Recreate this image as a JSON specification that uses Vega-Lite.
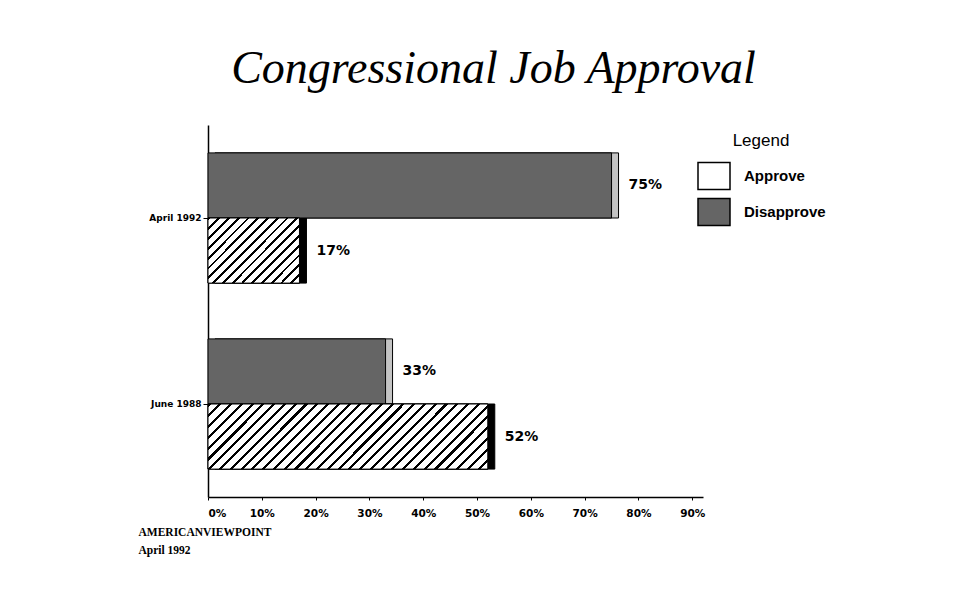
{
  "$schema": "https://vega.github.io/schema/vega-lite/v6.json",
  "autosize": "none",
  "padding": {"left": 208, "top": 125, "right": 265, "bottom": 94},
  "width": 495,
  "height": 372,
  "background": "white",
  "title": {
    "text": "Congressional Job Approval",
    "font": "Liberation Serif",
    "fontStyle": "italic",
    "fontWeight": "normal",
    "fontSize": 46,
    "color": "black",
    "anchor": "middle",
    "dx": 38,
    "offset": 32
  },
  "data": {
    "values": [
      {"period": "April 1992", "answer": "Disapprove", "pct": 0.75},
      {"period": "April 1992", "answer": "Approve", "pct": 0.17},
      {"period": "June 1988", "answer": "Disapprove", "pct": 0.33},
      {"period": "June 1988", "answer": "Approve", "pct": 0.52}
    ]
  },
  "encoding": {
    "y": {
      "field": "period",
      "type": "nominal",
      "sort": ["April 1992", "June 1988"],
      "scale": {"paddingInner": 0.3, "paddingOuter": 0.15},
      "axis": {
        "title": null,
        "labelFont": "DejaVu Sans",
        "labelFontWeight": "bold",
        "labelFontSize": 9,
        "labelColor": "black",
        "tickColor": "black",
        "tickSize": 5,
        "labelPadding": 2,
        "domainColor": "black",
        "domainWidth": 1.5
      }
    },
    "yOffset": {"field": "answer", "type": "nominal", "sort": ["Disapprove", "Approve"]},
    "x": {
      "field": "pct",
      "type": "quantitative",
      "scale": {"domain": [0, 0.92], "nice": false},
      "axis": {
        "format": ".0%",
        "values": [0, 0.1, 0.2, 0.3, 0.4, 0.5, 0.6, 0.7, 0.8, 0.9],
        "grid": false,
        "labelFont": "DejaVu Sans",
        "labelFontWeight": "bold",
        "labelFontSize": 10.5,
        "labelColor": "black",
        "tickColor": "black",
        "tickSize": 3,
        "labelPadding": 8,
        "domainColor": "black",
        "domainWidth": 1.5,
        "title": ["AMERICANVIEWPOINT", "April 1992"],
        "titleFont": "Liberation Serif",
        "titleFontWeight": "bold",
        "titleFontSize": 11.5,
        "titleColor": "black",
        "titleAnchor": "start",
        "titleAlign": "left",
        "titleBaseline": "top",
        "titleX": -70,
        "titleY": 29,
        "titleLineHeight": 18
      }
    }
  },
  "layer": [
    {
      "mark": {"type": "bar", "xOffset": 7, "x2Offset": 7, "yOffset": -7, "y2Offset": -7, "stroke": "black", "strokeWidth": 1},
      "encoding": {
        "x2": {"datum": 0},
        "color": {
          "condition": {"test": "datum.answer === 'Approve'", "value": "black"},
          "value": "#c4c4c4"
        }
      }
    },
    {
      "mark": {"type": "bar", "stroke": "black", "strokeWidth": 1},
      "encoding": {
        "color": {
          "field": "answer",
          "type": "nominal",
          "scale": {"domain": ["Approve", "Disapprove"], "range": ["#ffffff", "#656565"]},
          "legend": {
            "title": "Legend",
            "orient": "none",
            "legendX": 489,
            "legendY": 8,
            "titleFont": "Liberation Sans",
            "titleFontWeight": "normal",
            "titleFontSize": 17,
            "titleColor": "black",
            "titleAnchor": "middle",
            "titlePadding": 9,
            "labelFont": "Liberation Sans",
            "labelFontWeight": "bold",
            "labelFontSize": 15,
            "labelColor": "black",
            "labelOffset": 13,
            "symbolType": "M-1,-0.84H1V0.84H-1Z",
            "symbolSize": 1024,
            "symbolStrokeColor": "black",
            "symbolStrokeWidth": 1.5,
            "symbolOpacity": 1,
            "rowPadding": 2,
            "encode": {
              "symbols": {
                "update": {
                  "stroke": {"value": "black"},
                  "strokeWidth": {"value": 1.5},
                  "fill": {"signal": "datum.value === 'Approve' ? {gradient: 'linear', x1: 0, y1: 0, x2: 1.077, y2: 0.909, stops: [{offset: 0, color: '#000'}, {offset: 0.05, color: '#000'}, {offset: 0.05, color: '#fff'}, {offset: 0.1667, color: '#fff'}, {offset: 0.1667, color: '#000'}, {offset: 0.2167, color: '#000'}, {offset: 0.2167, color: '#fff'}, {offset: 0.3333, color: '#fff'}, {offset: 0.3333, color: '#000'}, {offset: 0.3833, color: '#000'}, {offset: 0.3833, color: '#fff'}, {offset: 0.5, color: '#fff'}, {offset: 0.5, color: '#000'}, {offset: 0.55, color: '#000'}, {offset: 0.55, color: '#fff'}, {offset: 0.6667, color: '#fff'}, {offset: 0.6667, color: '#000'}, {offset: 0.7167, color: '#000'}, {offset: 0.7167, color: '#fff'}, {offset: 0.8333, color: '#fff'}, {offset: 0.8333, color: '#000'}, {offset: 0.8833, color: '#000'}, {offset: 0.8833, color: '#fff'}, {offset: 1, color: '#fff'}]} : '#656565'"}
                }
              }
            }
          }
        }
      }
    },
    {
      "transform": [{"filter": "datum.answer === 'Approve' && datum.period === 'April 1992'"}],
      "mark": {
        "type": "bar",
        "stroke": "black",
        "strokeWidth": 1,
        "fill": {
          "gradient": "linear",
          "x1": 0, "y1": 0, "x2": 1.138, "y2": 0.804,
          "stops": [
            {"offset": 0, "color": "#000"}, {"offset": 0.018, "color": "#000"}, {"offset": 0.018, "color": "#fff"}, {"offset": 0.0625, "color": "#fff"},
            {"offset": 0.0625, "color": "#000"}, {"offset": 0.0805, "color": "#000"}, {"offset": 0.0805, "color": "#fff"}, {"offset": 0.125, "color": "#fff"},
            {"offset": 0.125, "color": "#000"}, {"offset": 0.143, "color": "#000"}, {"offset": 0.143, "color": "#fff"}, {"offset": 0.1875, "color": "#fff"},
            {"offset": 0.1875, "color": "#000"}, {"offset": 0.2055, "color": "#000"}, {"offset": 0.2055, "color": "#fff"}, {"offset": 0.25, "color": "#fff"},
            {"offset": 0.25, "color": "#000"}, {"offset": 0.268, "color": "#000"}, {"offset": 0.268, "color": "#fff"}, {"offset": 0.3125, "color": "#fff"},
            {"offset": 0.3125, "color": "#000"}, {"offset": 0.3305, "color": "#000"}, {"offset": 0.3305, "color": "#fff"}, {"offset": 0.375, "color": "#fff"},
            {"offset": 0.375, "color": "#000"}, {"offset": 0.393, "color": "#000"}, {"offset": 0.393, "color": "#fff"}, {"offset": 0.4375, "color": "#fff"},
            {"offset": 0.4375, "color": "#000"}, {"offset": 0.4555, "color": "#000"}, {"offset": 0.4555, "color": "#fff"}, {"offset": 0.5, "color": "#fff"},
            {"offset": 0.5, "color": "#000"}, {"offset": 0.518, "color": "#000"}, {"offset": 0.518, "color": "#fff"}, {"offset": 0.5625, "color": "#fff"},
            {"offset": 0.5625, "color": "#000"}, {"offset": 0.5805, "color": "#000"}, {"offset": 0.5805, "color": "#fff"}, {"offset": 0.625, "color": "#fff"},
            {"offset": 0.625, "color": "#000"}, {"offset": 0.643, "color": "#000"}, {"offset": 0.643, "color": "#fff"}, {"offset": 0.6875, "color": "#fff"},
            {"offset": 0.6875, "color": "#000"}, {"offset": 0.7055, "color": "#000"}, {"offset": 0.7055, "color": "#fff"}, {"offset": 0.75, "color": "#fff"},
            {"offset": 0.75, "color": "#000"}, {"offset": 0.768, "color": "#000"}, {"offset": 0.768, "color": "#fff"}, {"offset": 0.8125, "color": "#fff"},
            {"offset": 0.8125, "color": "#000"}, {"offset": 0.8305, "color": "#000"}, {"offset": 0.8305, "color": "#fff"}, {"offset": 0.875, "color": "#fff"},
            {"offset": 0.875, "color": "#000"}, {"offset": 0.893, "color": "#000"}, {"offset": 0.893, "color": "#fff"}, {"offset": 0.9375, "color": "#fff"},
            {"offset": 0.9375, "color": "#000"}, {"offset": 0.9555, "color": "#000"}, {"offset": 0.9555, "color": "#fff"}, {"offset": 1, "color": "#fff"}
          ]
        }
      },
      "encoding": {}
    },
    {
      "transform": [{"filter": "datum.answer === 'Approve' && datum.period === 'June 1988'"}],
      "mark": {
        "type": "bar",
        "stroke": "black",
        "strokeWidth": 1,
        "fill": {
          "gradient": "linear",
          "x1": 0, "y1": 0, "x2": 1.169, "y2": 0.2714,
          "stops": [
            {"offset": 0, "color": "#000"}, {"offset": 0.009, "color": "#000"}, {"offset": 0.009, "color": "#fff"}, {"offset": 0.03125, "color": "#fff"},
            {"offset": 0.03125, "color": "#000"}, {"offset": 0.04025, "color": "#000"}, {"offset": 0.04025, "color": "#fff"}, {"offset": 0.0625, "color": "#fff"},
            {"offset": 0.0625, "color": "#000"}, {"offset": 0.0715, "color": "#000"}, {"offset": 0.0715, "color": "#fff"}, {"offset": 0.09375, "color": "#fff"},
            {"offset": 0.09375, "color": "#000"}, {"offset": 0.10275, "color": "#000"}, {"offset": 0.10275, "color": "#fff"}, {"offset": 0.125, "color": "#fff"},
            {"offset": 0.125, "color": "#000"}, {"offset": 0.134, "color": "#000"}, {"offset": 0.134, "color": "#fff"}, {"offset": 0.15625, "color": "#fff"},
            {"offset": 0.15625, "color": "#000"}, {"offset": 0.16525, "color": "#000"}, {"offset": 0.16525, "color": "#fff"}, {"offset": 0.1875, "color": "#fff"},
            {"offset": 0.1875, "color": "#000"}, {"offset": 0.1965, "color": "#000"}, {"offset": 0.1965, "color": "#fff"}, {"offset": 0.21875, "color": "#fff"},
            {"offset": 0.21875, "color": "#000"}, {"offset": 0.22775, "color": "#000"}, {"offset": 0.22775, "color": "#fff"}, {"offset": 0.25, "color": "#fff"},
            {"offset": 0.25, "color": "#000"}, {"offset": 0.259, "color": "#000"}, {"offset": 0.259, "color": "#fff"}, {"offset": 0.28125, "color": "#fff"},
            {"offset": 0.28125, "color": "#000"}, {"offset": 0.29025, "color": "#000"}, {"offset": 0.29025, "color": "#fff"}, {"offset": 0.3125, "color": "#fff"},
            {"offset": 0.3125, "color": "#000"}, {"offset": 0.3215, "color": "#000"}, {"offset": 0.3215, "color": "#fff"}, {"offset": 0.34375, "color": "#fff"},
            {"offset": 0.34375, "color": "#000"}, {"offset": 0.35275, "color": "#000"}, {"offset": 0.35275, "color": "#fff"}, {"offset": 0.375, "color": "#fff"},
            {"offset": 0.375, "color": "#000"}, {"offset": 0.384, "color": "#000"}, {"offset": 0.384, "color": "#fff"}, {"offset": 0.40625, "color": "#fff"},
            {"offset": 0.40625, "color": "#000"}, {"offset": 0.41525, "color": "#000"}, {"offset": 0.41525, "color": "#fff"}, {"offset": 0.4375, "color": "#fff"},
            {"offset": 0.4375, "color": "#000"}, {"offset": 0.4465, "color": "#000"}, {"offset": 0.4465, "color": "#fff"}, {"offset": 0.46875, "color": "#fff"},
            {"offset": 0.46875, "color": "#000"}, {"offset": 0.47775, "color": "#000"}, {"offset": 0.47775, "color": "#fff"}, {"offset": 0.5, "color": "#fff"},
            {"offset": 0.5, "color": "#000"}, {"offset": 0.509, "color": "#000"}, {"offset": 0.509, "color": "#fff"}, {"offset": 0.53125, "color": "#fff"},
            {"offset": 0.53125, "color": "#000"}, {"offset": 0.54025, "color": "#000"}, {"offset": 0.54025, "color": "#fff"}, {"offset": 0.5625, "color": "#fff"},
            {"offset": 0.5625, "color": "#000"}, {"offset": 0.5715, "color": "#000"}, {"offset": 0.5715, "color": "#fff"}, {"offset": 0.59375, "color": "#fff"},
            {"offset": 0.59375, "color": "#000"}, {"offset": 0.60275, "color": "#000"}, {"offset": 0.60275, "color": "#fff"}, {"offset": 0.625, "color": "#fff"},
            {"offset": 0.625, "color": "#000"}, {"offset": 0.634, "color": "#000"}, {"offset": 0.634, "color": "#fff"}, {"offset": 0.65625, "color": "#fff"},
            {"offset": 0.65625, "color": "#000"}, {"offset": 0.66525, "color": "#000"}, {"offset": 0.66525, "color": "#fff"}, {"offset": 0.6875, "color": "#fff"},
            {"offset": 0.6875, "color": "#000"}, {"offset": 0.6965, "color": "#000"}, {"offset": 0.6965, "color": "#fff"}, {"offset": 0.71875, "color": "#fff"},
            {"offset": 0.71875, "color": "#000"}, {"offset": 0.72775, "color": "#000"}, {"offset": 0.72775, "color": "#fff"}, {"offset": 0.75, "color": "#fff"},
            {"offset": 0.75, "color": "#000"}, {"offset": 0.759, "color": "#000"}, {"offset": 0.759, "color": "#fff"}, {"offset": 0.78125, "color": "#fff"},
            {"offset": 0.78125, "color": "#000"}, {"offset": 0.79025, "color": "#000"}, {"offset": 0.79025, "color": "#fff"}, {"offset": 0.8125, "color": "#fff"},
            {"offset": 0.8125, "color": "#000"}, {"offset": 0.8215, "color": "#000"}, {"offset": 0.8215, "color": "#fff"}, {"offset": 0.84375, "color": "#fff"},
            {"offset": 0.84375, "color": "#000"}, {"offset": 0.85275, "color": "#000"}, {"offset": 0.85275, "color": "#fff"}, {"offset": 0.875, "color": "#fff"},
            {"offset": 0.875, "color": "#000"}, {"offset": 0.884, "color": "#000"}, {"offset": 0.884, "color": "#fff"}, {"offset": 0.90625, "color": "#fff"},
            {"offset": 0.90625, "color": "#000"}, {"offset": 0.91525, "color": "#000"}, {"offset": 0.91525, "color": "#fff"}, {"offset": 0.9375, "color": "#fff"},
            {"offset": 0.9375, "color": "#000"}, {"offset": 0.9465, "color": "#000"}, {"offset": 0.9465, "color": "#fff"}, {"offset": 0.96875, "color": "#fff"},
            {"offset": 0.96875, "color": "#000"}, {"offset": 0.97775, "color": "#000"}, {"offset": 0.97775, "color": "#fff"}, {"offset": 1, "color": "#fff"}
          ]
        }
      },
      "encoding": {}
    },
    {
      "mark": {
        "type": "text",
        "align": "left",
        "baseline": "middle",
        "dx": 17,
        "font": "DejaVu Sans",
        "fontWeight": "bold",
        "fontSize": 14,
        "color": "black"
      },
      "encoding": {
        "text": {"field": "pct", "type": "quantitative", "format": ".0%"}
      }
    }
  ],
  "config": {
    "view": {"stroke": null}
  }
}
